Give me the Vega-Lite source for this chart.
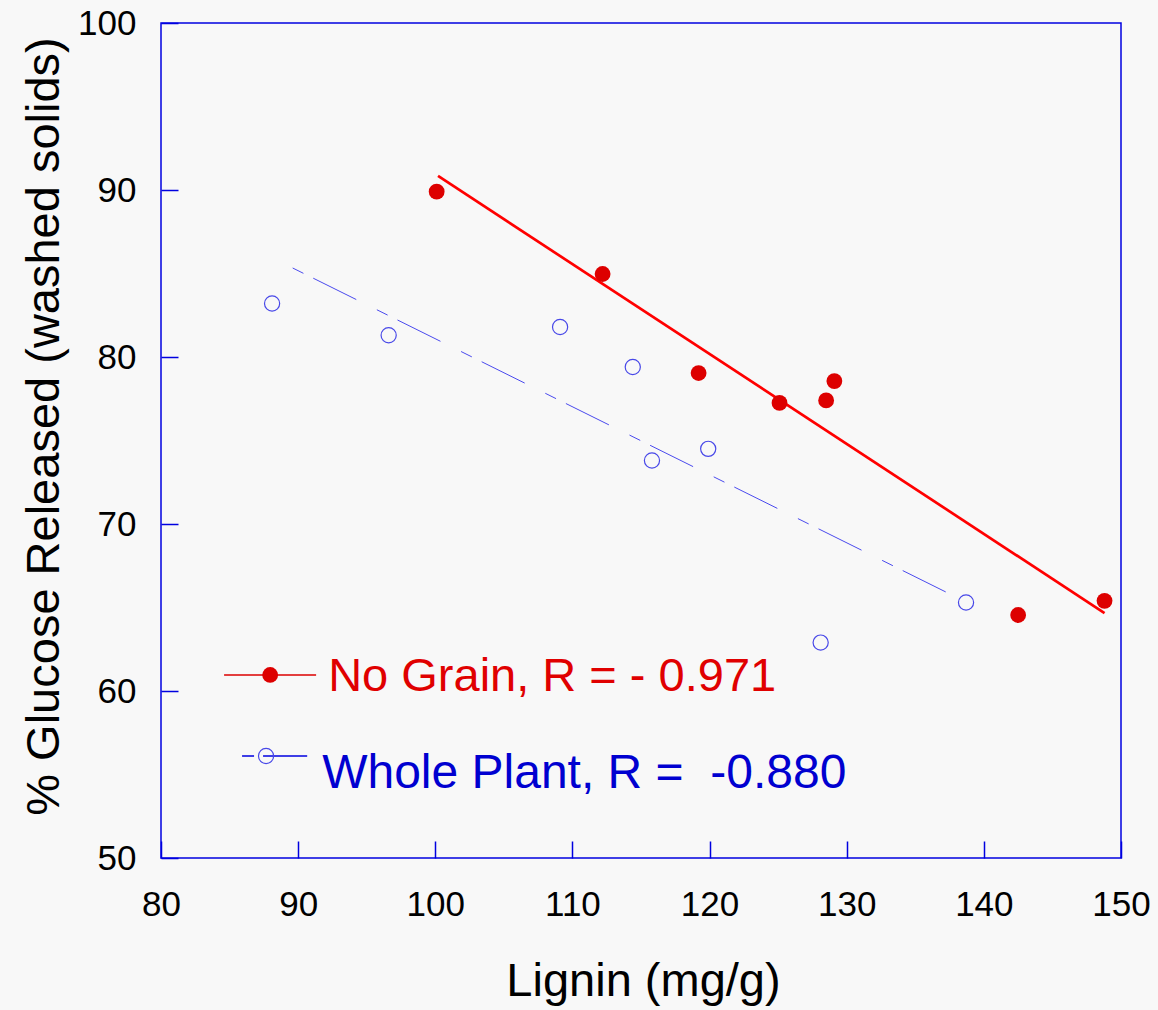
{
  "$schema": "https://vega.github.io/schema/vega-lite/v6.json",
  "autosize": "none",
  "width": 960,
  "height": 835,
  "padding": {"left": 161, "top": 23, "right": 37, "bottom": 152},
  "background": "#f8f8f8",
  "config": {
    "view": {"stroke": "#0000e0", "strokeWidth": 1.5},
    "font": "Liberation Sans",
    "axis": {
      "grid": false,
      "domain": false,
      "offset": -17,
      "tickColor": "#0000e0",
      "tickWidth": 1.5,
      "tickSize": 17,
      "labelFlush": false,
      "labelOverlap": false,
      "labelFont": "Liberation Sans",
      "labelFontSize": 35,
      "labelColor": "#000000",
      "titleFont": "Liberation Sans",
      "titleFontSize": 47,
      "titleFontWeight": "normal",
      "titleColor": "#000000"
    }
  },
  "layer": [
    {
      "data": {"values": [
        {"lignin": 100.2, "glucose": 90.84},
        {"lignin": 148.8, "glucose": 64.67}
      ]},
      "mark": {"type": "line", "color": "#ff0000", "strokeWidth": 2.7},
      "encoding": {
        "x": {"field": "lignin", "type": "quantitative",
              "scale": {"domain": [80, 150], "nice": false, "zero": false},
              "axis": {"values": [80, 90, 100, 110, 120, 130, 140, 150],
                       "title": "Lignin (mg/g)", "labelBaseline": "alphabetic",
                       "labelPadding": 57, "titleBaseline": "alphabetic",
                       "titleY": 154, "titleX": 482, "titleAnchor": "middle"}},
        "y": {"field": "glucose", "type": "quantitative",
              "scale": {"domain": [50, 100], "nice": false, "zero": false},
              "axis": {"values": [50, 60, 70, 80, 90, 100],
                       "title": "% Glucose Released (washed solids)",
                       "labelAlign": "right", "labelBaseline": "middle",
                       "labelPadding": 25, "titleAngle": -90,
                       "titleBaseline": "alphabetic", "titleAlign": "center",
                       "titleX": -120, "titleY": 403}}
      }
    },
    {
      "data": {"values": [
        {"lignin": 89.6, "glucose": 85.33},
        {"lignin": 138.7, "glucose": 65.33}
      ]},
      "mark": {"type": "line", "color": "#4a4aee", "strokeWidth": 1, "strokeDash": [12, 11, 48, 23]},
      "encoding": {
        "x": {"field": "lignin", "type": "quantitative"},
        "y": {"field": "glucose", "type": "quantitative"}
      }
    },
    {
      "data": {"values": [
        {"lignin": 100.1, "glucose": 89.9},
        {"lignin": 112.2, "glucose": 84.97},
        {"lignin": 119.2, "glucose": 79.04},
        {"lignin": 125.1, "glucose": 77.25},
        {"lignin": 128.5, "glucose": 77.4},
        {"lignin": 129.1, "glucose": 78.56},
        {"lignin": 142.5, "glucose": 64.55},
        {"lignin": 148.8, "glucose": 65.4}
      ]},
      "mark": {"type": "point", "shape": "circle", "filled": true, "color": "#dd0000", "opacity": 1, "size": 250},
      "encoding": {
        "x": {"field": "lignin", "type": "quantitative"},
        "y": {"field": "glucose", "type": "quantitative"}
      }
    },
    {
      "data": {"values": [
        {"lignin": 88.1, "glucose": 83.2},
        {"lignin": 96.6, "glucose": 81.3},
        {"lignin": 109.1, "glucose": 81.8},
        {"lignin": 114.4, "glucose": 79.4},
        {"lignin": 115.8, "glucose": 73.8},
        {"lignin": 119.9, "glucose": 74.5},
        {"lignin": 128.1, "glucose": 62.9},
        {"lignin": 138.7, "glucose": 65.3}
      ]},
      "mark": {"type": "point", "shape": "circle", "filled": false, "color": "#4848e8", "strokeWidth": 1.2, "opacity": 1, "size": 230},
      "encoding": {
        "x": {"field": "lignin", "type": "quantitative"},
        "y": {"field": "glucose", "type": "quantitative"}
      }
    },
    {
      "data": {"values": [{"x1": 84.6, "x2": 91.31, "y": 60.96}]},
      "mark": {"type": "rule", "color": "#dd0000", "strokeWidth": 1.5},
      "encoding": {
        "x": {"field": "x1", "type": "quantitative"},
        "x2": {"field": "x2"},
        "y": {"field": "y", "type": "quantitative"}
      }
    },
    {
      "data": {"values": [{"x": 87.96, "y": 60.96}]},
      "mark": {"type": "point", "shape": "circle", "filled": true, "color": "#dd0000", "opacity": 1, "size": 250},
      "encoding": {
        "x": {"field": "x", "type": "quantitative"},
        "y": {"field": "y", "type": "quantitative"}
      }
    },
    {
      "data": {"values": [{"x1": 85.91, "x2": 90.66, "y": 56.11}]},
      "mark": {"type": "rule", "color": "#0000e0", "strokeWidth": 1.5, "strokeDash": [12, 9, 80, 0]},
      "encoding": {
        "x": {"field": "x1", "type": "quantitative"},
        "x2": {"field": "x2"},
        "y": {"field": "y", "type": "quantitative"}
      }
    },
    {
      "data": {"values": [{"x": 87.66, "y": 56.11}]},
      "mark": {"type": "point", "shape": "circle", "filled": false, "color": "#4848e8", "strokeWidth": 1.2, "opacity": 1, "size": 230},
      "encoding": {
        "x": {"field": "x", "type": "quantitative"},
        "y": {"field": "y", "type": "quantitative"}
      }
    },
    {
      "data": {"values": [{"x": 92.19, "y": 60.0, "label": "No Grain, R = - 0.971"}]},
      "mark": {"type": "text", "align": "left", "baseline": "alphabetic", "font": "Liberation Sans", "fontSize": 47, "color": "#e00000"},
      "encoding": {
        "x": {"field": "x", "type": "quantitative"},
        "y": {"field": "y", "type": "quantitative"},
        "text": {"field": "label"}
      }
    },
    {
      "data": {"values": [{"x": 91.75, "y": 54.19, "label": "Whole Plant, R =\u00a0 -0.880"}]},
      "mark": {"type": "text", "align": "left", "baseline": "alphabetic", "font": "Liberation Sans", "fontSize": 48, "color": "#0000d0"},
      "encoding": {
        "x": {"field": "x", "type": "quantitative"},
        "y": {"field": "y", "type": "quantitative"},
        "text": {"field": "label"}
      }
    }
  ]
}
